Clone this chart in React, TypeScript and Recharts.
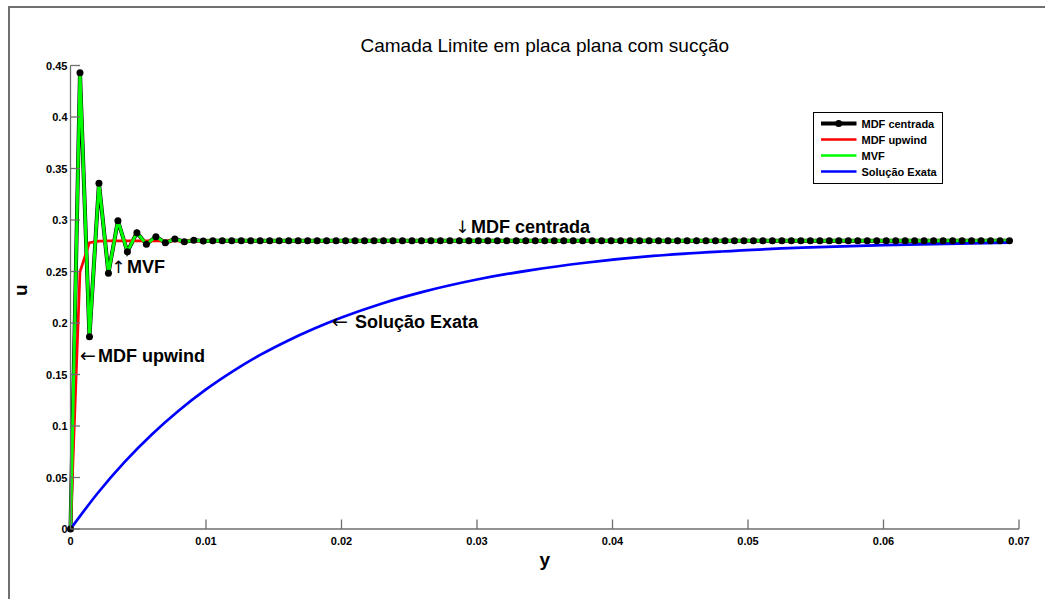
import { LineChart, Line, XAxis, YAxis, ReferenceDot, Legend } from "recharts";

const FONT = '"Liberation Sans", Arial, Helvetica, sans-serif';
const ARROW_FONT = '"DejaVu Sans", sans-serif';
const AXIS = "#6f6f6f";
const FRAME = "#707070";

// node spacing of the y grid (100 nodes, 0 .. 0.0693)
const h = 0.0007;

// MDF centrada, one value per grid node
const centradaU = [
  0, 0.443, 0.1867, 0.3356, 0.2483, 0.2993, 0.2692, 0.2877, 0.2764, 0.2838,
  0.278, 0.2815, 0.279, 0.2803, 0.2795, 0.2799, 0.2798, 0.2798, 0.2798, 0.2798,
  0.2798, 0.2798, 0.2798, 0.2798, 0.2798, 0.2798, 0.2798, 0.2798, 0.2798, 0.2798,
  0.2798, 0.2798, 0.2798, 0.2798, 0.2798, 0.2798, 0.2798, 0.2798, 0.2798, 0.2798,
  0.2798, 0.2798, 0.2798, 0.2798, 0.2798, 0.2798, 0.2798, 0.2798, 0.2798, 0.2798,
  0.2798, 0.2798, 0.2798, 0.2798, 0.2798, 0.2798, 0.2798, 0.2798, 0.2798, 0.2798,
  0.2798, 0.2798, 0.2798, 0.2798, 0.2798, 0.2798, 0.2798, 0.2798, 0.2798, 0.2798,
  0.2798, 0.2798, 0.2798, 0.2798, 0.2798, 0.2798, 0.2798, 0.2798, 0.2798, 0.2798,
  0.2798, 0.2798, 0.2798, 0.2798, 0.2798, 0.2798, 0.2798, 0.2798, 0.2798, 0.2798,
  0.2798, 0.2798, 0.2798, 0.2798, 0.2798, 0.2798, 0.2798, 0.2798, 0.2798, 0.2798,
];

// MDF upwind, same grid
const upwindU = [
  0, 0.2498, 0.278, 0.2795, 0.2798, 0.2798, 0.2798, 0.2798, 0.2798, 0.2798,
  0.2798, 0.2798, 0.2798, 0.2798, 0.2798, 0.2798, 0.2798, 0.2798, 0.2798, 0.2798,
  0.2798, 0.2798, 0.2798, 0.2798, 0.2798, 0.2798, 0.2798, 0.2798, 0.2798, 0.2798,
  0.2798, 0.2798, 0.2798, 0.2798, 0.2798, 0.2798, 0.2798, 0.2798, 0.2798, 0.2798,
  0.2798, 0.2798, 0.2798, 0.2798, 0.2798, 0.2798, 0.2798, 0.2798, 0.2798, 0.2798,
  0.2798, 0.2798, 0.2798, 0.2798, 0.2798, 0.2798, 0.2798, 0.2798, 0.2798, 0.2798,
  0.2798, 0.2798, 0.2798, 0.2798, 0.2798, 0.2798, 0.2798, 0.2798, 0.2798, 0.2798,
  0.2798, 0.2798, 0.2798, 0.2798, 0.2798, 0.2798, 0.2798, 0.2798, 0.2798, 0.2798,
  0.2798, 0.2798, 0.2798, 0.2798, 0.2798, 0.2798, 0.2798, 0.2798, 0.2798, 0.2798,
  0.2798, 0.2798, 0.2798, 0.2798, 0.2798, 0.2798, 0.2798, 0.2798, 0.2798, 0.2798,
];

// MVF gives the same nodal values as the centred scheme
const mvfU = centradaU;

// exact solution, sampled along y
const exataY = [
  0, 0.002, 0.004, 0.006, 0.008, 0.01, 0.012, 0.014, 0.016, 0.018, 0.02,
  0.023, 0.026, 0.03, 0.034, 0.038, 0.043, 0.048, 0.054, 0.06, 0.0693,
];
const exataU = [
  0, 0.0347, 0.0651, 0.0917, 0.115, 0.1355, 0.1533, 0.169, 0.1826, 0.1946, 0.2053,
  0.219, 0.2302, 0.2422, 0.2514, 0.2585, 0.2651, 0.2694, 0.2731, 0.2757, 0.278,
];

const xTicks = [0, 0.01, 0.02, 0.03, 0.04, 0.05, 0.06, 0.07];
const yTicks = [0, 0.05, 0.1, 0.15, 0.2, 0.25, 0.3, 0.35, 0.4, 0.45];

const notes = [
  { y: 0.0284, u: 0.2937, arrow: "\u2193", text: "MDF centrada" },
  { y: 0.003, u: 0.2544, arrow: "\u2191", text: "MVF" },
  { y: 0.0007, u: 0.1689, arrow: "\u2190", text: "MDF upwind" },
  { y: 0.0193, u: 0.2012, arrow: "\u2190", text: " Solução Exata" },
];

const series = [
  { name: "MDF centrada", color: "#000000", width: 4, marker: true },
  { name: "MDF upwind", color: "#ff0000", width: 2.5, marker: false },
  { name: "MVF", color: "#00ff00", width: 2.5, marker: false },
  { name: "Solução Exata", color: "#0000ff", width: 2.5, marker: false },
];

const gridY = centradaU.map((_, i) => i * h);
const centradaData = gridY.map((y, i) => ({ y, u: centradaU[i] }));
const upwindData = gridY.map((y, i) => ({ y, u: upwindU[i] }));
const mvfData = gridY.map((y, i) => ({ y, u: mvfU[i] }));
const exataData = exataY.map((y, i) => ({ y, u: exataU[i] }));

function YTick(props: any) {
  const { x, y, payload } = props;
  return (
    <g>
      <line x1={x} x2={x + 9.5} y1={y} y2={y} stroke={AXIS} strokeWidth={1.3} />
      <text x={x - 3} y={y} dy={4} textAnchor="end" fontSize={11} fontWeight="bold" fontFamily={FONT} fill="#000">
        {String(payload.value)}
      </text>
    </g>
  );
}

function XTick(props: any) {
  const { x, y, payload } = props;
  return (
    <g>
      <line x1={x} x2={x} y1={y} y2={y - 9.5} stroke={AXIS} strokeWidth={1.3} />
      <text x={x} y={y + 16} textAnchor="middle" fontSize={11} fontWeight="bold" fontFamily={FONT} fill="#000">
        {String(payload.value)}
      </text>
    </g>
  );
}

function noteLabel(arrow: string, text: string) {
  const vertical = arrow === "\u2193" || arrow === "\u2191";
  return (props: any) => {
    const vb = props.viewBox;
    return (
      <text x={vb.x} y={vb.y} dy="0.36em" fontSize={18} fontWeight="bold" fontFamily={FONT} fill="#000">
        <tspan fontFamily={ARROW_FONT} fontWeight="normal" fontSize={vertical ? 17 : 19}>
          {arrow}
        </tspan>
        <tspan dx={vertical ? 1.5 : 2}>{text}</tspan>
      </text>
    );
  };
}

function LegendBox() {
  return (
    <svg width={130} height={72} style={{ display: "block" }}>
      <rect x={0.5} y={0.5} width={129} height={71} fill="#fff" stroke="#000" strokeWidth={1} />
      {series.map((s, i) => {
        const cy = 11.6 + i * 16;
        return (
          <g key={s.name}>
            <line x1={8} x2={43.5} y1={cy} y2={cy} stroke={s.color} strokeWidth={s.width} />
            {s.marker && <circle cx={25.7} cy={cy} r={3.5} fill={s.color} />}
            <text x={48.5} y={cy + 4} fontSize={11} fontWeight="bold" fontFamily={FONT} fill="#000">
              {s.name}
            </text>
          </g>
        );
      })}
    </svg>
  );
}

export default function App() {
  return (
    <div style={{ position: "relative", width: 1037, height: 583, fontFamily: FONT }}>
      {/* figure frame: only its top and left edges fall inside the window */}
      <div
        style={{
          position: "fixed",
          left: 8,
          top: 6,
          right: 0,
          bottom: 0,
          borderTop: `2px solid ${FRAME}`,
          borderLeft: `2px solid ${FRAME}`,
          pointerEvents: "none",
          zIndex: 5,
        }}
      />
      <div
        style={{
          position: "absolute",
          left: 62.5,
          top: 28,
          width: 948.5,
          textAlign: "center",
          fontSize: 19,
          lineHeight: "20px",
          color: "#000",
        }}
      >
        Camada Limite em placa plana com sucção
      </div>
      <LineChart width={1037} height={583} margin={{ top: 57.5, right: 26, bottom: 22, left: 0 }}>
        <XAxis
          dataKey="y"
          type="number"
          domain={[0, 0.07]}
          ticks={xTicks}
          interval={0}
          height={40}
          tickSize={0}
          tickMargin={0}
          tickLine={false}
          tick={XTick}
          axisLine={{ stroke: AXIS, strokeWidth: 1.3 }}
          label={{
            content: (p: any) => {
              const vb = p.viewBox;
              return (
                <text x={vb.x + vb.width / 2} y={vb.y + 37} textAnchor="middle" fontSize={19} fontWeight="bold" fontFamily={FONT} fill="#000">
                  y
                </text>
              );
            },
          }}
        />
        <YAxis
          type="number"
          domain={[0, 0.45]}
          ticks={yTicks}
          interval={0}
          width={62.5}
          tickSize={0}
          tickMargin={0}
          tickLine={false}
          tick={YTick}
          axisLine={{ stroke: AXIS, strokeWidth: 1.3 }}
          label={{
            content: (p: any) => {
              const vb = p.viewBox;
              return (
                <text
                  transform={`translate(19, ${vb.y + vb.height / 2 - 7}) rotate(-90)`}
                  textAnchor="middle"
                  fontSize={19}
                  fontWeight="bold"
                  fontFamily={FONT}
                  fill="#000"
                >
                  u
                </text>
              );
            },
          }}
        />
        <Line
          data={centradaData}
          dataKey="u"
          name="MDF centrada"
          type="linear"
          stroke="#000"
          strokeWidth={4}
          dot={{ r: 3.5, fill: "#000", stroke: "none" }}
          activeDot={false}
          isAnimationActive={false}
        />
        <Line
          data={upwindData}
          dataKey="u"
          name="MDF upwind"
          type="linear"
          stroke="#ff0000"
          strokeWidth={2.7}
          dot={false}
          activeDot={false}
          isAnimationActive={false}
        />
        <Line
          data={mvfData}
          dataKey="u"
          name="MVF"
          type="linear"
          stroke="#00ff00"
          strokeWidth={3}
          dot={false}
          activeDot={false}
          isAnimationActive={false}
        />
        <Line
          data={exataData}
          dataKey="u"
          name="Solução Exata"
          type="monotone"
          stroke="#0000ff"
          strokeWidth={2.7}
          dot={false}
          activeDot={false}
          isAnimationActive={false}
        />
        {notes.map((n) => (
          <ReferenceDot
            key={n.text}
            x={n.y}
            y={n.u}
            r={0}
            fill="none"
            stroke="none"
            label={noteLabel(n.arrow, n.text)}
          />
        ))}
        <Legend
          layout="vertical"
          align="center"
          verticalAlign="middle"
          wrapperStyle={{ left: 804.5, top: 103.5, width: 130, height: 72 }}
          content={() => <LegendBox />}
        />
      </LineChart>
    </div>
  );
}
